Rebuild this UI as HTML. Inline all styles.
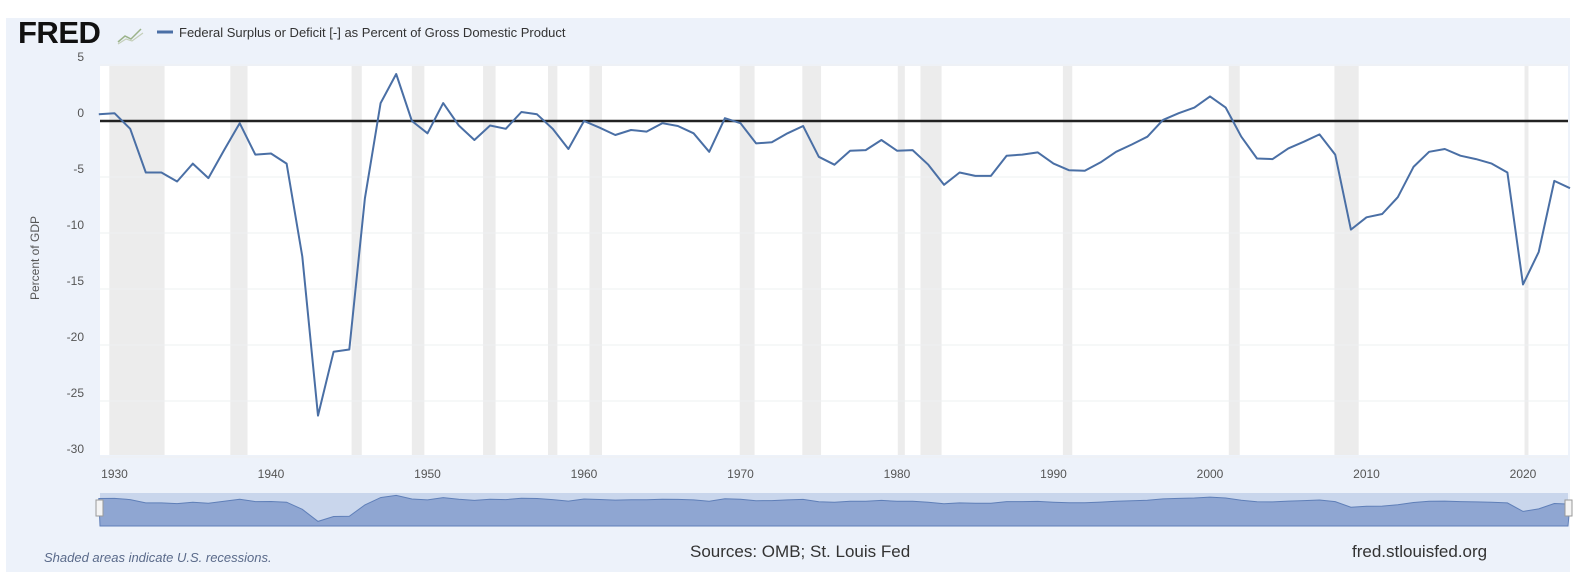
<!DOCTYPE html>
<html><head><meta charset="utf-8"><style>
html,body{margin:0;padding:0;background:#fff;width:1578px;height:586px;overflow:hidden;font-family:"Liberation Sans",sans-serif}
</style></head><body>
<svg id="chart" width="1578" height="586" viewBox="0 0 1578 586" xmlns="http://www.w3.org/2000/svg">
<rect x="6" y="18" width="1564" height="554" fill="#edf2fa"/>
<text x="18" y="43" font-size="31" font-weight="bold" fill="#111" letter-spacing="-0.5">FRED</text>
<g><polyline points="118,42 125,36 131,39 141,29" fill="none" stroke="#9bb38a" stroke-width="1.5"/><polyline points="118,44 126,39 132,41 143,33" fill="none" stroke="#c4cfb9" stroke-width="1.2"/></g>
<line x1="157" y1="32" x2="173" y2="32" stroke="#4a6fa5" stroke-width="3"/>
<text x="179" y="37" font-size="13" fill="#333">Federal Surplus or Deficit [-] as Percent of Gross Domestic Product</text>
<rect x="100" y="66" width="1468" height="389" fill="#fff"/>
<g id="rec"></g><g id="grid"></g><g id="ylab"></g><g id="xlab"></g>
<text transform="translate(39,258) rotate(-90)" text-anchor="middle" font-size="12" fill="#555">Percent of GDP</text>
<g id="series"></g>
<rect x="100" y="493" width="1468" height="33" fill="#c9d6ec"/>
<g id="nav"></g>
<rect x="96" y="500" width="7" height="16" fill="#f4f4f4" stroke="#999"/>
<rect x="1565" y="500" width="7" height="16" fill="#f4f4f4" stroke="#999"/>
<text x="44" y="562" font-size="13" font-style="italic" fill="#5a6a8a">Shaded areas indicate U.S. recessions.</text>
<text x="690" y="557" font-size="17" fill="#333">Sources: OMB; St. Louis Fed</text>
<text x="1352" y="557" font-size="17" fill="#333">fred.stlouisfed.org</text>
</svg>
<script>
const years = [];
for (let y = 1929; y <= 2023; y++) years.push(y);
const values = [0.6,0.7,-0.7,-4.6,-4.6,-5.4,-3.8,-5.1,-2.6,-0.2,-3.0,-2.9,-3.8,-12.1,-26.3,-20.6,-20.4,-6.9,1.6,4.2,0.0,-1.1,1.6,-0.4,-1.7,-0.4,-0.7,0.8,0.6,-0.7,-2.5,0.0,-0.6,-1.25,-0.8,-0.95,-0.2,-0.45,-1.1,-2.75,0.25,-0.2,-2.0,-1.9,-1.1,-0.45,-3.2,-3.9,-2.65,-2.6,-1.7,-2.65,-2.6,-3.9,-5.7,-4.6,-4.9,-4.9,-3.1,-3.0,-2.8,-3.8,-4.4,-4.45,-3.7,-2.75,-2.1,-1.4,0.1,0.7,1.2,2.2,1.2,-1.4,-3.35,-3.4,-2.45,-1.85,-1.2,-3.0,-9.7,-8.6,-8.3,-6.8,-4.1,-2.75,-2.5,-3.1,-3.4,-3.8,-4.6,-14.6,-11.7,-5.35,-6.0];
const recStart = [1929.67,1937.4,1945.15,1949.0,1953.55,1957.7,1960.35,1969.95,1973.95,1980.05,1981.5,1990.6,2001.2,2007.95,2020.1];
const recEnd = [1933.2,1938.5,1945.8,1949.8,1954.35,1958.3,1961.15,1970.9,1975.15,1980.5,1982.85,1991.2,2001.9,2009.5,2020.35];
const yTicks = [5,0,-5,-10,-15,-20,-25,-30];
const xTicks = [1930,1940,1950,1960,1970,1980,1990,2000,2010,2020];

const NS='http://www.w3.org/2000/svg';
const X = yr => 114.5 + (yr - 1930) * 15.65;
const Y = v => 121 - v * 11.2;
const NY = v => 499 - v * 0.85;
function mk(tag, attrs, parent){const e=document.createElementNS(NS,tag);for(const k in attrs)e.setAttribute(k,attrs[k]);document.getElementById(parent).appendChild(e);return e;}
recStart.forEach((s,i)=>{
  const r=mk('rect',{x:Math.max(100,X(s)),y:66,width:X(recEnd[i])-Math.max(100,X(s)),height:389,fill:'#ececec'},'rec');
  
  
});
yTicks.forEach(t=>{
  if(t!==0){const g=mk('line',{x1:100,x2:1568,y1:Y(t),y2:Y(t),stroke:'#eef0f2','stroke-width':1},'grid');
  
  }
  const l=mk('text',{x:84,y:Y(t)-4,'text-anchor':'end','font-size':12,fill:'#555'},'ylab');
  l.textContent=t;
  
  
});
const z=mk('line',{x1:100,x2:1568,y1:Y(0),y2:Y(0),stroke:'#222','stroke-width':2.5},'grid');


xTicks.forEach(t=>{
  const l=mk('text',{x:X(t),y:478,'text-anchor':'middle','font-size':12,fill:'#555'},'xlab');
  l.textContent=t;
  
  
});
const pts=years.map((yr,i)=>X(yr).toFixed(1)+','+Y(values[i]).toFixed(1)).join(' ');
const line=mk('polyline',{points:pts,fill:'none',stroke:'#4a6fa5','stroke-width':2,'stroke-linejoin':'round'},'series');


const np=years.map((yr,i)=>X(yr).toFixed(1)+','+NY(values[i]).toFixed(1));
const area=mk('polygon',{points:'100,526 '+np.join(' ')+' 1568,526',fill:'#8fa6d2',stroke:'#5f7fb8','stroke-width':1},'nav');


</script>
</body></html>
